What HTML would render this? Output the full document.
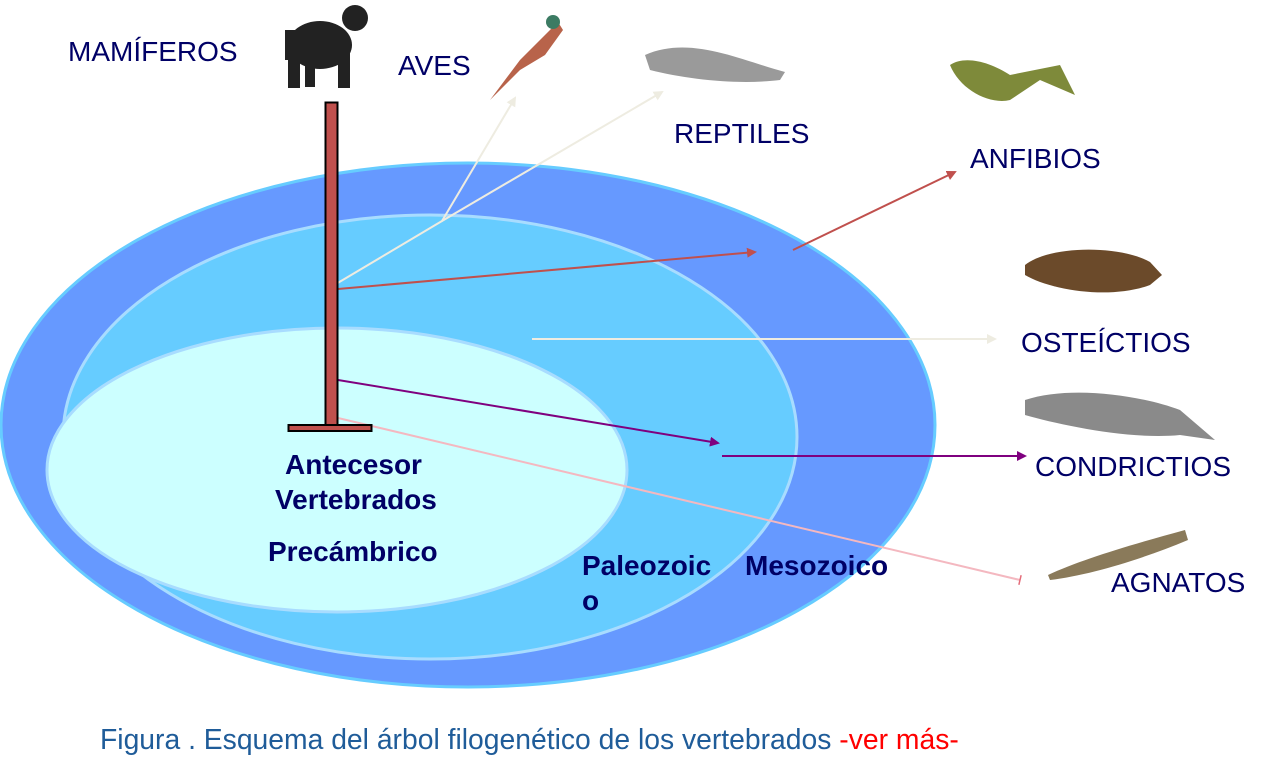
<!DOCTYPE html>
<html><head><meta charset="utf-8"><style>
body{margin:0;background:#fff;}
svg{display:block;}
text{font-family:"Liberation Sans",sans-serif;}
</style></head><body>
<svg width="1270" height="778" viewBox="0 0 1270 778" xmlns="http://www.w3.org/2000/svg">
<defs>
<marker id="aw" markerWidth="10" markerHeight="10" refX="8" refY="5" orient="auto" markerUnits="userSpaceOnUse"><path d="M0,0 L10,5 L0,10 Z" fill="#EEECE1"/></marker>
<marker id="ar" markerWidth="10" markerHeight="10" refX="8" refY="5" orient="auto" markerUnits="userSpaceOnUse"><path d="M0,0 L10,5 L0,10 Z" fill="#C0504D"/></marker>
<marker id="ap" markerWidth="10" markerHeight="10" refX="8" refY="5" orient="auto" markerUnits="userSpaceOnUse"><path d="M0,0 L10,5 L0,10 Z" fill="#7F007F"/></marker>
<marker id="ak" markerWidth="10" markerHeight="10" refX="5" refY="5" orient="auto" markerUnits="userSpaceOnUse"><path d="M5,0 L5,10" stroke="#E46C7A" stroke-width="1.5"/></marker>
</defs>
<ellipse cx="468" cy="425" rx="467" ry="262" fill="#6699FF" stroke="#66CCFF" stroke-width="3"/>
<ellipse cx="430" cy="437" rx="367" ry="222" fill="#66CCFF" stroke="#A8DCFF" stroke-width="3"/>
<ellipse cx="337" cy="470" rx="290" ry="142" fill="#CCFFFF" stroke="#A8DCFF" stroke-width="3"/>
<polyline points="336,284 442,221 515,98" fill="none" stroke="#EEECE1" stroke-width="2" marker-end="url(#aw)"/>
<line x1="442" y1="221" x2="662" y2="92" stroke="#EEECE1" stroke-width="2" marker-end="url(#aw)"/>
<line x1="338" y1="289" x2="755" y2="252" stroke="#C0504D" stroke-width="2" marker-end="url(#ar)"/>
<line x1="793" y1="250" x2="955" y2="172" stroke="#C0504D" stroke-width="2" marker-end="url(#ar)"/>
<line x1="532" y1="339" x2="995" y2="339" stroke="#EEECE1" stroke-width="2" marker-end="url(#aw)"/>
<line x1="338" y1="380" x2="718" y2="443" stroke="#7F007F" stroke-width="2" marker-end="url(#ap)"/>
<line x1="722" y1="456" x2="1025" y2="456" stroke="#7F007F" stroke-width="2" marker-end="url(#ap)"/>
<line x1="338" y1="418" x2="1020" y2="580" stroke="#F4B8C0" stroke-width="2" marker-end="url(#ak)"/>
<rect x="325.5" y="102.5" width="12" height="325" fill="#C0504D" stroke="#000" stroke-width="2"/>
<rect x="288.5" y="425" width="83" height="6" fill="#C0504D" stroke="#000" stroke-width="2"/>
<g fill="#222"><ellipse cx="320" cy="45" rx="32" ry="24"/><circle cx="355" cy="18" r="13"/><rect x="288" y="50" width="12" height="38"/><rect x="338" y="50" width="12" height="38"/><rect x="305" y="55" width="10" height="32"/><rect x="285" y="30" width="12" height="30"/></g>
<g><path d="M490,100 L520,60 L540,40 L558,22 L563,30 L545,55 L520,70 Z" fill="#B8634A"/><circle cx="553" cy="22" r="7" fill="#3C7B63"/></g>
<path d="M645,55 C690,35 740,60 785,72 L780,80 C740,85 690,80 650,70 Z" fill="#9A9A9A"/>
<path d="M950,65 C965,55 990,62 1010,75 L1060,65 L1075,95 L1040,80 L1010,100 C990,105 960,90 950,65 Z" fill="#7E8A3A"/>
<path d="M1025,265 C1050,245 1120,245 1150,262 L1162,275 L1150,285 C1110,300 1050,290 1025,275 Z" fill="#6B4A2A"/>
<path d="M1025,400 C1070,385 1140,395 1180,410 L1215,440 L1180,435 C1130,440 1060,425 1025,415 Z" fill="#8A8A8A"/>
<path d="M1048,575 C1080,560 1130,545 1185,530 L1188,540 C1140,560 1090,575 1050,580 Z" fill="#8A7A5A"/>
<g fill="#000066" font-size="28">
<text x="68" y="61">MAMÍFEROS</text>
<text x="398" y="75">AVES</text>
<text x="674" y="143">REPTILES</text>
<text x="970" y="168">ANFIBIOS</text>
<text x="1021" y="352">OSTEÍCTIOS</text>
<text x="1035" y="476">CONDRICTIOS</text>
<text x="1111" y="592">AGNATOS</text>
</g>
<g fill="#000066" font-size="28" font-weight="bold">
<text x="285" y="474">Antecesor</text>
<text x="275" y="509">Vertebrados</text>
<text x="268" y="561">Precámbrico</text>
<text x="582" y="575">Paleozoic</text>
<text x="582" y="610">o</text>
<text x="745" y="575">Mesozoico</text>
</g>
<text x="100" y="749" font-size="28.3" fill="#1F5C99">Figura . Esquema del árbol filogenético de los vertebrados <tspan fill="#FF0000">-ver más-</tspan></text>
</svg>
</body></html>
